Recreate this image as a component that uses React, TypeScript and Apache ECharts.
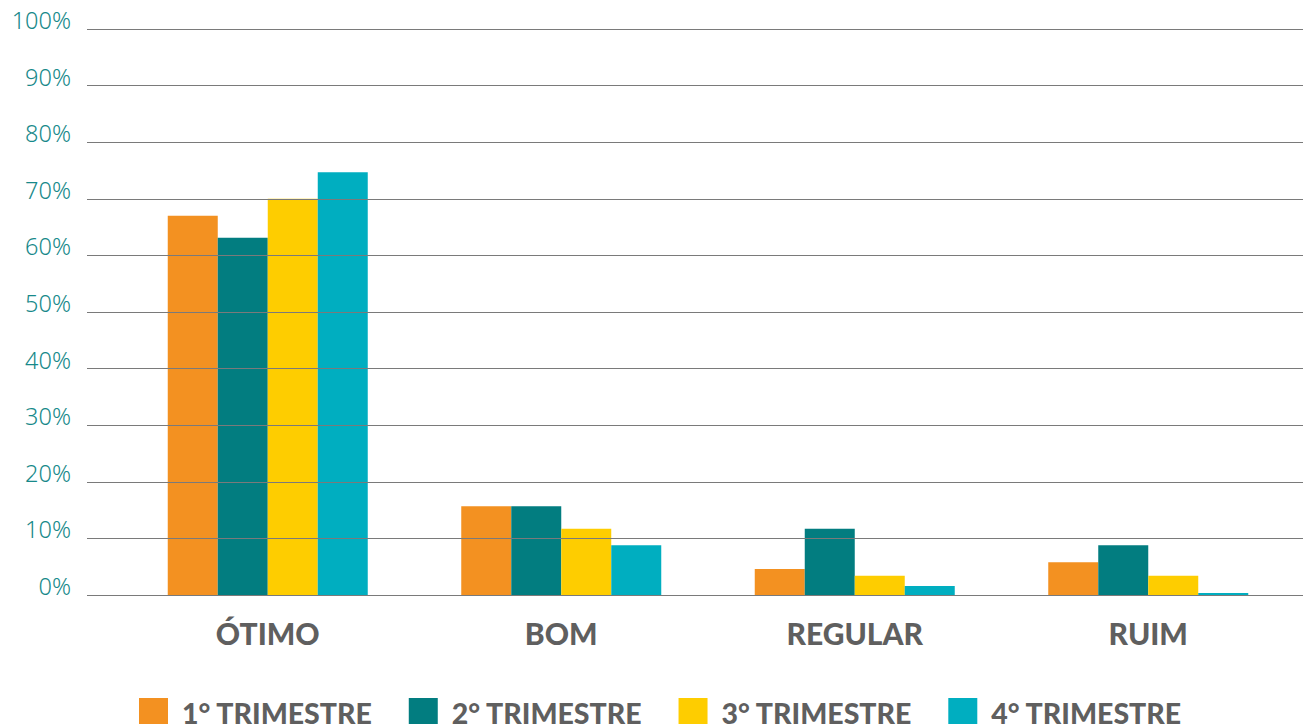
import React, { useEffect, useRef } from "react";
import * as echarts from "echarts";

const categories = ["ÓTIMO", "BOM", "REGULAR", "RUIM"];
const seriesNames = ["1° TRIMESTRE", "2° TRIMESTRE", "3° TRIMESTRE", "4° TRIMESTRE"];
const q1 = [67, 15.7, 4.6, 5.8];
const q2 = [63.1, 15.7, 11.7, 8.8];
const q3 = [70, 11.7, 3.4, 3.4];
const q4 = [74.7, 8.8, 1.6, 0.35];
const colors = ["#F39121", "#027D80", "#FECD00", "#00AEC0"];

export default function App() {
  const ref = useRef<HTMLDivElement>(null);
  useEffect(() => {
    if (!ref.current) return;
    const chart = echarts.init(ref.current, null, { renderer: "svg" });
    const data = [q1, q2, q3, q4];
    chart.setOption({
      animation: false,
      backgroundColor: "#ffffff",
      grid: [
        { left: 121, right: 8, top: 29, bottom: 129 },
        { left: 87, right: 0, top: 29, bottom: 129 },
      ],
      legend: {
        left: 134,
        top: 693,
        itemWidth: 29,
        itemHeight: 30,
        itemGap: 36,
        icon: "rect",
        data: seriesNames,
        textStyle: {
          fontFamily: "Lato",
          fontWeight: 900,
          fontSize: 28.5,
          color: "#5f5f5f",
          padding: [0, 0, 0, 9],
        },
      },
      xAxis: [
        {
          type: "category",
          gridIndex: 0,
          data: categories,
          axisLine: { show: false },
          axisTick: { show: false },
          axisLabel: {
            margin: 23,
            fontFamily: "Lato",
            fontWeight: 900,
            fontSize: 30,
            color: "#5f5f5f",
          },
        },
        {
          type: "category",
          gridIndex: 1,
          data: categories,
          show: false,
        },
      ],
      yAxis: [
        {
          type: "value",
          gridIndex: 0,
          min: 0,
          max: 100,
          interval: 10,
          show: false,
          splitLine: { show: false },
        },
        {
          type: "value",
          gridIndex: 1,
          min: 0,
          max: 100,
          interval: 10,
          z: 10,
          axisLine: { show: false },
          axisTick: { show: false },
          axisLabel: {
            formatter: "{value}%",
            margin: 16,
            fontFamily: "Noto Sans",
            fontWeight: 300,
            fontSize: 23.5,
            color: "#17898A",
            verticalAlign: "bottom",
            lineHeight: 18,
          },
          splitLine: { show: true, lineStyle: { color: "#7a7a7a", width: 1 } },
        },
      ],
      series: seriesNames.map((name, i) => ({
        name,
        type: "bar",
        xAxisIndex: 0,
        yAxisIndex: 0,
        barWidth: 50,
        barGap: "0%",
        itemStyle: { color: colors[i] },
        data: data[i],
      })),
    });
    return () => chart.dispose();
  }, []);
  return (
    <div
      ref={ref}
      style={{ position: "fixed", left: 0, top: 0, width: 1303, height: 724 }}
    />
  );
}
